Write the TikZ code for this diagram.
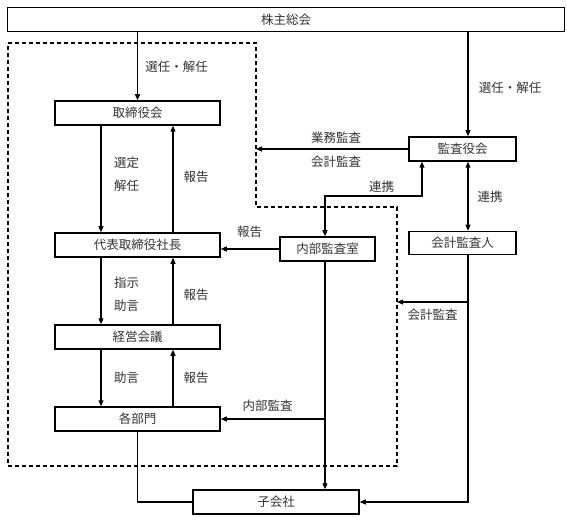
\documentclass[tikz,border=0pt]{standalone}
\usepackage{fontspec}
\newfontfamily\jp{Noto Sans CJK JP}
\usetikzlibrary{arrows.meta}
\begin{document}
\begin{tikzpicture}[x=1pt,y=-1pt,
  every node/.style={font=\jp\fontsize{12.5}{14}\selectfont},
  box/.style={draw,line width=1.5pt,inner sep=0pt,minimum height=24pt,text=black!80},
  lbl/.style={inner sep=0pt,text=black!80},
  conn/.style={line width=1.1pt},
  arr/.style={conn,-{Triangle[length=6pt,width=5pt]}},
  arrboth/.style={conn,{Triangle[length=6pt,width=5pt]}-{Triangle[length=6pt,width=5pt]}},
  dashbox/.style={line width=1.1pt,dash pattern=on 4pt off 3pt}]
\useasboundingbox (0,0) rectangle (567,521);
% boxes
\node[box,minimum width=557pt] (kabu) at (286,19.5) {株主総会};
\node[box,minimum width=165pt] (tori) at (137.5,113) {取締役会};
\node[box,minimum width=107pt] (kansa) at (462.5,149) {監査役会};
\node[box,minimum width=165pt] (daihyo) at (137.5,245) {代表取締役社長};
\node[box,minimum width=95pt] (naibu) at (327.5,249) {内部監査室};
\node[box,minimum width=107pt,minimum height=23pt] (kaikei) at (462.5,243) {会計監査人};
\node[box,minimum width=165pt] (keiei) at (137.5,337) {経営会議};
\node[box,minimum width=165pt] (kakubu) at (137.5,419) {各部門};
\node[box,minimum width=166pt] (ko) at (276,502) {子会社};
% helper coordinates
\coordinate (L) at (101,0);
\coordinate (R) at (173,0);
\coordinate (kx) at (468,0);
\coordinate (nx) at (325,0);
\coordinate (c1) at (422,196);
\coordinate (d1) at (256,149);
\coordinate (d2) at (397,302);
% dashed region
\draw[dashbox] (8,43) -- (256,43) -- (256,207) -- (397,207) -- (397,466) -- (8,466) -- cycle;
% connectors
\draw[arr] (kabu.south -| tori.north) -- (tori.north);
\draw[arr] (kabu.south -| kx) -- (kansa.north -| kx);
\draw[arr] (tori.south -| L) -- (daihyo.north -| L);
\draw[arr] (daihyo.north -| R) -- (tori.south -| R);
\draw[arr] (daihyo.south -| L) -- (keiei.north -| L);
\draw[arr] (keiei.north -| R) -- (daihyo.south -| R);
\draw[arr] (keiei.south -| L) -- (kakubu.north -| L);
\draw[arr] (kakubu.north -| R) -- (keiei.south -| R);
\draw[arr] (kansa.west) -- (d1);
\draw[arrboth] (naibu.north -| nx) |- (c1) -- (kansa.south -| c1);
\draw[arrboth] (kansa.south -| kx) -- (kaikei.north -| kx);
\draw[arr] (naibu.west) -- (naibu.west -| daihyo.east);
\draw[arr] (naibu.south -| nx) -- (ko.north -| nx);
\draw[arr] (nx |- kakubu.east) -- (kakubu.east);
\draw[arr] (kaikei.south -| kx) |- (ko.east);
\draw[arr] (kx |- d2) -- (d2);
\draw[conn] (kakubu.south) |- (ko.west);
% labels
\node[lbl] at (176.5,67) {選任・解任};
\node[lbl] at (510,88) {選任・解任};
\node[lbl] at (126.5,163) {選定};
\node[lbl] at (126.5,186) {解任};
\node[lbl] at (196,177) {報告};
\node[lbl] at (336,138) {業務監査};
\node[lbl] at (336,162) {会計監査};
\node[lbl] at (381.5,187) {連携};
\node[lbl] at (490,197) {連携};
\node[lbl] at (249.5,232) {報告};
\node[lbl] at (126.5,283) {指示};
\node[lbl] at (126.5,306) {助言};
\node[lbl] at (196,295) {報告};
\node[lbl] at (432.5,315) {会計監査};
\node[lbl] at (126.5,378) {助言};
\node[lbl] at (196,378) {報告};
\node[lbl] at (267.5,406) {内部監査};
\end{tikzpicture}
\end{document}
